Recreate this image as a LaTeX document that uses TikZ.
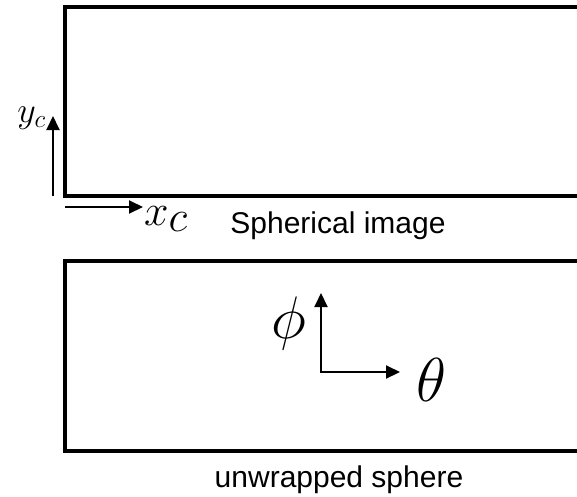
\RequirePackage{fix-cm}
\documentclass[tikz,border=0pt]{standalone}
\usepackage{fontspec}
\setmainfont{Liberation Sans}
\usetikzlibrary{arrows.meta}
\tikzset{
  >={Triangle[length=14pt,width=13pt]},
  frame/.style={line width=4pt},
  axis/.style={line width=2pt},
  lab/.style={inner sep=0pt},
  caption/.style={inner sep=0pt, font=\fontsize{30}{36}\selectfont},
}
\begin{document}
\begin{tikzpicture}[x=1pt, y=-1pt]
  \useasboundingbox (0,0) rectangle (577,496);

  % frames, open at the right
  \foreach \top/\bot in {7/196, 261/451}
    \draw[frame] (577,\top) -| (65,\bot) -- (577,\bot);

  % image axes
  \coordinate (o1) at (53,196);
  \coordinate (yc) at (53,116);
  \coordinate (o2) at (65,207);
  \coordinate (xc) at (143,207);
  \draw[axis, ->] (o1) -- (yc);
  \draw[axis, ->] (o2) -- (xc);
  \node[lab, anchor=base east, font=\fontsize{36}{40}\selectfont] (ylab) at (46,122) {$y_c$};
  \node[lab, anchor=base west, font=\fontsize{44}{50}\selectfont] (xlab) at (144,225) {$x_{\textstyle c}$};
  \node[caption, anchor=base] (top) at (338,233) {Spherical image};

  % sphere axes
  \coordinate (o3) at (321,372);
  \coordinate (phi) at (321,293);
  \coordinate (theta) at (400,372);
  \draw[axis, <->] (phi) -- (o3) -- (theta);
  \node[lab, font=\fontsize{60}{66}\selectfont] (philab) at (289,323) {$\phi$};
  \node[lab, anchor=base west, font=\fontsize{62}{68}\selectfont] (thetalab) at (416,401) {$\theta$};
  \node[caption, anchor=base] (bottom) at (339,487) {unwrapped sphere};
\end{tikzpicture}
\end{document}
